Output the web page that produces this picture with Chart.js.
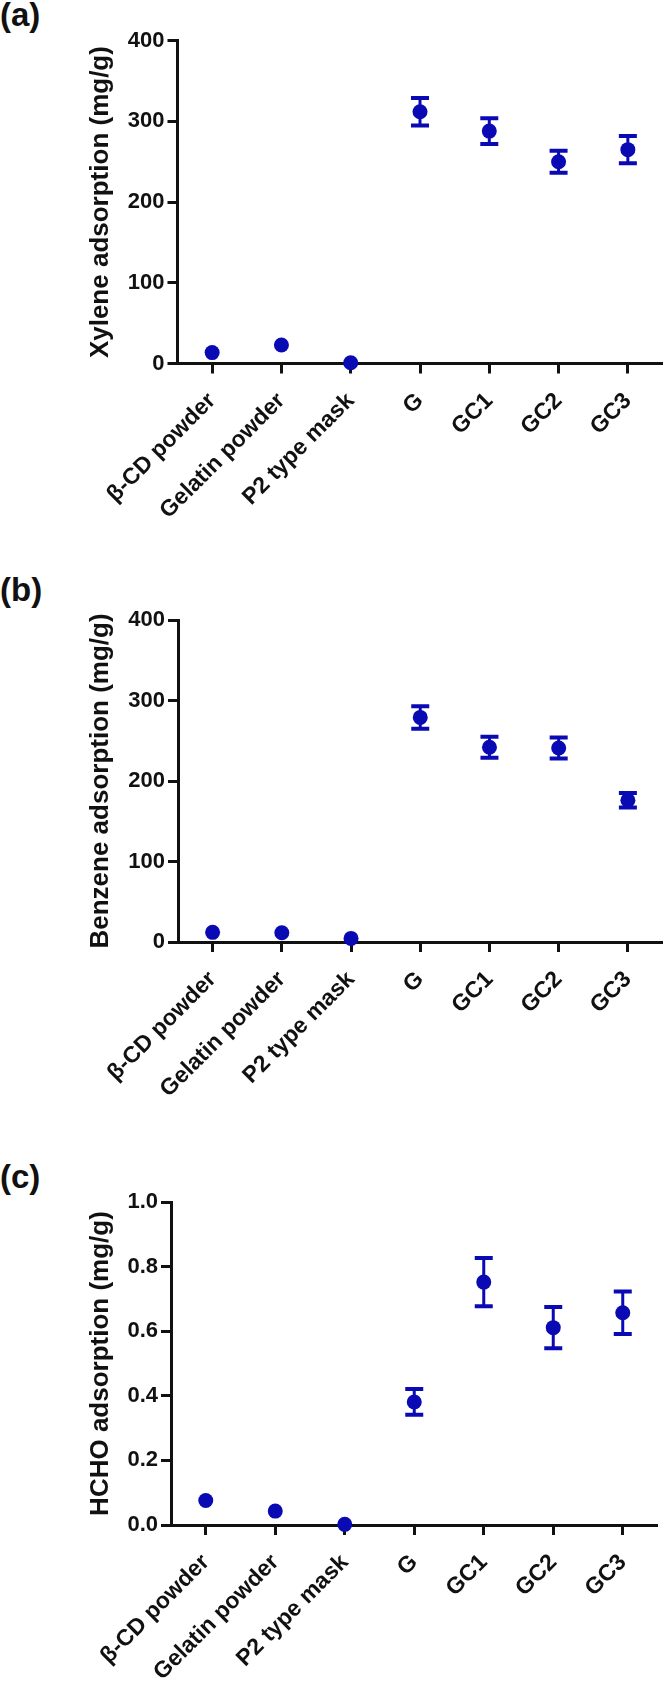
<!DOCTYPE html>
<html>
<head>
<meta charset="utf-8">
<script src="https://cdn.jsdelivr.net/npm/chart.js@4.4.1/dist/chart.umd.min.js"></script>
<style>
  body { margin: 0; width: 670px; height: 1683px; background: #fff; position: relative; overflow: hidden; font-family: 'Liberation Sans', Arial, sans-serif; }
  canvas { position: absolute; left: 0; }
  .tag { position: absolute; left: 0; font-size: 33px; font-weight: bold; line-height: 1; color: #111; }
</style>
</head>
<body>
<div class="tag" style="top:-2px">(a)</div>
<div class="tag" style="top:573px">(b)</div>
<div class="tag" style="top:1160px">(c)</div>
<canvas id="chartA" width="670" height="560" style="top:0px"></canvas>
<canvas id="chartB" width="670" height="580" style="top:560px"></canvas>
<canvas id="chartC" width="670" height="543" style="top:1140px"></canvas>
<script>
const categories = ['β-CD powder', 'Gelatin powder', 'P2 type mask', 'G', 'GC1', 'GC2', 'GC3'];

// mean and error values
const xyleneMean = [13.5, 23, 1, 312, 288, 250, 265];
const xyleneErr = [0, 0, 0, 17, 16, 13.5, 17];
const benzeneMean = [12, 11.5, 4.5, 279, 242, 241, 176];
const benzeneErr = [0, 0, 0, 14, 13, 13, 9];
const hchoMean = [0.076, 0.043, 0.002, 0.381, 0.752, 0.611, 0.657];
const hchoErr = [0, 0, 0, 0.04, 0.075, 0.064, 0.066];

const mgTicks = [0, 100, 200, 300, 400];
const hchoTicks = [0, 0.2, 0.4, 0.6, 0.8, 1.0];

const blue = '#0a0ab4';
const ink = '#111';

// draws the +/- error bars with caps
const errorBars = {
  id: 'errorBars',
  afterDatasetsDraw(chart) {
    const ctx = chart.ctx;
    const x = chart.scales.x, y = chart.scales.y;
    chart.data.datasets.forEach(ds => {
      if (!ds.errors) return;
      ctx.save();
      ctx.strokeStyle = ds.borderColor;
      ds.data.forEach((v, i) => {
        const e = ds.errors[i];
        if (!e) return;
        const px = x.getPixelForValue(i);
        const top = y.getPixelForValue(v + e);
        const bot = y.getPixelForValue(v - e);
        ctx.lineWidth = 3;
        ctx.beginPath();
        ctx.moveTo(px, top); ctx.lineTo(px, bot);
        ctx.stroke();
        ctx.lineWidth = 4;
        ctx.beginPath();
        ctx.moveTo(px - 9, top); ctx.lineTo(px + 9, top);
        ctx.moveTo(px - 9, bot); ctx.lineTo(px + 9, bot);
        ctx.stroke();
      });
      ctx.restore();
    });
  }
};

function makeChart(id, mean, err, ticks, digits, title, box) {
  const canvas = document.getElementById(id);
  const h = canvas.height;
  return new Chart(canvas, {
    type: 'line',
    data: {
      labels: categories,
      datasets: [{
        data: mean,
        errors: err,
        showLine: false,
        clip: false,
        pointRadius: 7.5,
        pointHoverRadius: 7.5,
        pointBorderWidth: 0,
        backgroundColor: blue,
        borderColor: blue
      }]
    },
    options: {
      responsive: false,
      animation: false,
      devicePixelRatio: 1,
      layout: { padding: { top: box.top, right: box.right, left: 0, bottom: 0 } },
      plugins: { legend: { display: false }, tooltip: { enabled: false } },
      scales: {
        x: {
          offset: true,
          grid: { offset: false, drawOnChartArea: false, tickLength: 10, tickWidth: 3, tickColor: ink },
          border: { color: ink, width: 3 },
          ticks: {
            autoSkip: false, minRotation: 45, maxRotation: 45, padding: 14, color: ink,
            font: { size: 23, weight: 'bold' }
          },
          afterFit: s => { s.height = h - box.bottom; }
        },
        y: {
          min: ticks[0],
          max: ticks[ticks.length - 1],
          grid: { drawOnChartArea: false, tickLength: 10, tickWidth: 3, tickColor: ink },
          border: { color: ink, width: 3 },
          ticks: {
            stepSize: ticks[1] - ticks[0],
            padding: 3,
            color: ink,
            font: { size: 22, weight: 'bold' },
            callback: v => Number(v).toFixed(digits)
          },
          title: {
            display: true, text: title, color: ink,
            font: { size: 26, weight: 'bold' },
            padding: { top: 85, bottom: 0 }
          },
          afterFit: s => { s.width = box.left; }
        }
      }
    },
    plugins: [errorBars]
  });
}

Chart.defaults.font.family = "'Liberation Sans', Arial, sans-serif";

makeChart('chartA', xyleneMean, xyleneErr, mgTicks, 0, 'Xylene adsorption (mg/g)',
  { top: 40.7, bottom: 363.5, left: 177.5, right: 6 });
makeChart('chartB', benzeneMean, benzeneErr, mgTicks, 0, 'Benzene adsorption (mg/g)',
  { top: 60, bottom: 382, left: 178, right: 6 });
makeChart('chartC', hchoMean, hchoErr, hchoTicks, 1, 'HCHO adsorption (mg/g)',
  { top: 62, bottom: 385, left: 171, right: 12.5 });
</script>
</body>
</html>
